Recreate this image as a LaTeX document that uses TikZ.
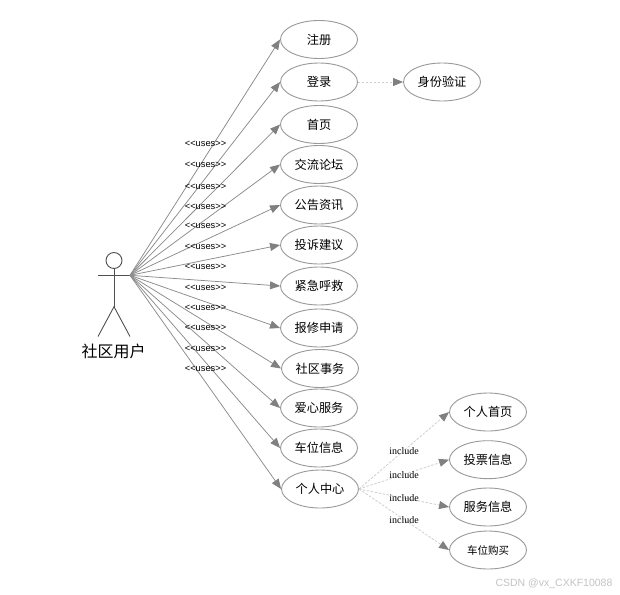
\documentclass[tikz,border=0pt]{standalone}
\usepackage{fontspec}
\usetikzlibrary{arrows.meta,shapes.geometric}
\newfontfamily\cjk{Noto Sans CJK SC}
\newfontfamily\lsans{Liberation Sans}
\newfontfamily\lserif{Liberation Serif}
\definecolor{edgegray}{HTML}{8C8C8C}
\definecolor{headgray}{HTML}{808080}
\definecolor{dashgray}{HTML}{CFCFCF}
\definecolor{rimgray}{HTML}{999999}
\definecolor{stickgray}{HTML}{505050}
\definecolor{markgray}{HTML}{C4C4C4}
\tikzset{
  usecase/.style={draw=rimgray,line width=0.9pt,ellipse,minimum width=77pt,minimum height=38pt,inner sep=0pt,font=\cjk\fontsize{12.2}{14}\selectfont,text=black},
  assoc/.style={draw=edgegray,line width=0.75pt,-{Triangle[length=10pt,width=8pt,color=headgray,fill=headgray]}},
  depend/.style={draw=dashgray,line width=0.8pt,dash pattern=on 2.5pt off 1.5pt,-{Triangle[length=10pt,width=8pt,color=headgray,fill=headgray]}},
  stick/.style={draw=stickgray,line width=0.9pt},
  useslabel/.style={font=\lsans\fontsize{9.3}{10}\selectfont,inner sep=0pt,text=black},
  inclabel/.style={font=\lserif\fontsize{10}{11}\selectfont,inner sep=0pt,text=black},
}
\begin{document}
\begin{tikzpicture}[x=1pt,y=-1pt]
\useasboundingbox (0,0) rectangle (620,594);
\fill[white] (0,0) rectangle (620,594);
% actor
\node[circle,stick,minimum size=16pt,inner sep=0pt] (head) at (114,260.5) {};
\coordinate (armL) at (98,275.3);
\coordinate (hand) at (130,275.3);
\coordinate (hip) at (114,306.7);
\coordinate (footL) at (98,336.5);
\coordinate (footR) at (130,336.5);
\draw[stick] (head.south) -- (hip);
\draw[stick] (armL) -- (hand);
\draw[stick] (footL) -- (hip) -- (footR);
\node[inner sep=0pt,font=\cjk\fontsize{16}{17}\selectfont] (actorname) at (113.5,351) {社区用户};
% use cases
\node[usecase] (a1) at (319,39.5) {注册};
\node[usecase] (a2) at (319,82) {登录};
\node[usecase] (a3) at (319,124.5) {首页};
\node[usecase] (a4) at (319,164.5) {交流论坛};
\node[usecase] (a5) at (319,205) {公告资讯};
\node[usecase] (a6) at (319,245) {投诉建议};
\node[usecase] (a7) at (319,286) {紧急呼救};
\node[usecase] (a8) at (319,328) {报修申请};
\node[usecase] (a9) at (320,368.5) {社区事务};
\node[usecase] (a10) at (319,408) {爱心服务};
\node[usecase] (a11) at (319,448) {车位信息};
\node[usecase] (a12) at (320,489) {个人中心};
\node[usecase] (b1) at (442,82) {身份验证};
\node[usecase] (c1) at (488,412) {个人首页};
\node[usecase] (c2) at (488,459.7) {投票信息};
\node[usecase] (c3) at (488,507) {服务信息};
\node[usecase,font=\cjk\fontsize{10.5}{12}\selectfont] (c4) at (488,550) {车位购买};
% associations
\foreach \t in {a1,a2,a3,a4,a5,a6,a7,a8,a9,a10,a11,a12}
  \draw[assoc] (hand) -- (\t.west);
% dependencies
\draw[depend] (a2.east) -- (b1.west);
\foreach \t in {c1,c2,c3,c4}
  \draw[depend] (a12.east) -- (\t.west);
% labels
\foreach \y/\n in {144/u1,165/u2,187/u3,207/u4,226/u5,247/u6,267/u7,288/u8,308/u9,328/u10,349/u11,369/u12}
  \node[useslabel] (\n) at (205.5,\y) {<<uses>>};
\foreach \y/\n in {451/i1,475/i2,498/i3,520/i4}
  \node[inclabel] (\n) at (404,\y) {include};
\node[inner sep=0pt,font=\lsans\fontsize{10.5}{12}\selectfont,text=markgray] (mark) at (554,583.5) {CSDN @vx\_CXKF10088};
\end{tikzpicture}
\end{document}
